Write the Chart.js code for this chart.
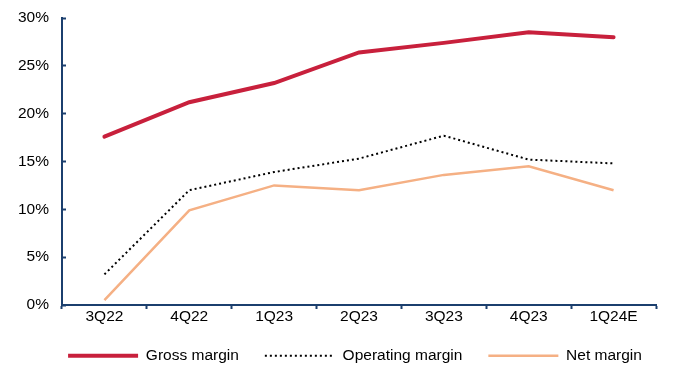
<!DOCTYPE html>
<html>
<head>
<meta charset="utf-8">
<style>
  html, body { margin: 0; padding: 0; background: #ffffff; }
  #wrap { width: 680px; height: 376px; }
</style>
<script src="https://cdn.jsdelivr.net/npm/chart.js@4.4.1/dist/chart.umd.min.js"></script>
</head>
<body>
<div id="wrap"><canvas id="chart" width="680" height="376"></canvas></div>
<script>
// Quarterly margins (%)
const quarters = ['3Q22', '4Q22', '1Q23', '2Q23', '3Q23', '4Q23', '1Q24E'];
const grossMargin = [17.6, 21.2, 23.2, 26.4, 27.4, 28.5, 28.0];
const operatingMargin = [3.2, 12.0, 13.9, 15.3, 17.7, 15.2, 14.8];
const netMargin = [0.5, 9.9, 12.5, 12.0, 13.6, 14.5, 12.0];
const yTicks = [0, 5, 10, 15, 20, 25, 30];

const axisColor = '#1B3F6E';
const font = { family: 'Liberation Sans, Arial, sans-serif', size: 15.5 };

// Move the legend row: a bit up towards the axis labels, and right
const legendNudge = {
  id: 'legendNudge',
  afterLayout(chart) {
    const lg = chart.legend;
    if (!lg) return;
    lg.top -= 5; lg.bottom -= 5;
    lg.left += 27; lg.right += 27;
  }
};

new Chart(document.getElementById('chart'), {
  type: 'line',
  data: {
    labels: quarters,
    datasets: [
      {
        label: 'Gross margin',
        data: grossMargin,
        borderColor: '#C8203C',
        backgroundColor: '#C8203C',
        borderWidth: 4,
        pointRadius: 0,
        tension: 0,
        borderCapStyle: 'round'
      },
      {
        label: 'Operating margin',
        data: operatingMargin,
        borderColor: '#000000',
        backgroundColor: '#000000',
        borderWidth: 2,
        borderDash: [2, 3],
        pointRadius: 0,
        tension: 0
      },
      {
        label: 'Net margin',
        data: netMargin,
        borderColor: '#F5B084',
        backgroundColor: '#F5B084',
        borderWidth: 2.5,
        pointRadius: 0,
        tension: 0
      }
    ]
  },
  plugins: [legendNudge],
  options: {
    responsive: false,
    animation: false,
    layout: { padding: { left: 0, right: 24, top: 18, bottom: 0 } },
    plugins: {
      tooltip: { enabled: false },
      legend: {
        position: 'bottom',
        maxHeight: 49,
        labels: {
          usePointStyle: true,
          pointStyle: 'line',
          pointStyleWidth: 70,
          padding: 26,
          color: '#000000',
          font: font,
          generateLabels(chart) {
            const items = Chart.defaults.plugins.legend.labels.generateLabels(chart);
            items.forEach((it) => {
              const ds = chart.data.datasets[it.datasetIndex];
              it.lineDash = ds.borderDash || [];
              it.lineWidth = ds.borderWidth;
              it.strokeStyle = ds.borderColor;
            });
            return items;
          }
        }
      }
    },
    scales: {
      x: {
        offset: true,
        afterFit: (s) => { s.height = 22; },
        grid: {
          offset: true,
          drawOnChartArea: false,
          tickLength: 4,
          tickWidth: 2,
          tickColor: axisColor
        },
        border: { color: axisColor, width: 2 },
        ticks: { color: '#000000', font: font, padding: -2, maxRotation: 0 }
      },
      y: {
        min: 0,
        max: 30,
        afterFit: (s) => { s.width = 62; s.paddingTop = 0; s.paddingBottom = 0; },
        afterBuildTicks: (s) => { s.ticks = yTicks.map(v => ({ value: v })); },
        grid: {
          drawOnChartArea: false,
          tickLength: -4,
          tickWidth: 2,
          tickColor: axisColor
        },
        border: { color: axisColor, width: 2 },
        ticks: {
          color: '#000000',
          font: font,
          padding: 17,
          callback: (v) => v + '%'
        }
      }
    }
  }
});
</script>
</body>
</html>
